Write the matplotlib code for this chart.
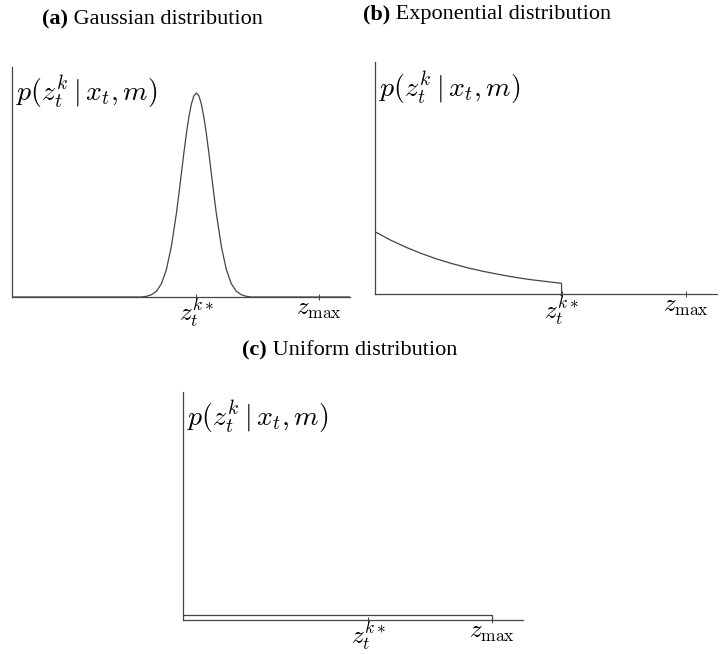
import matplotlib
matplotlib.use("Agg")
import matplotlib.pyplot as plt

# x in units of z_max, y in units of axis height
z_star = 0.6
z_max = 1.0

gauss_x = [0.0, 0.421, 0.4377, 0.4539, 0.4701, 0.4864, 0.5026, 0.5188, 0.5351,
           0.5432, 0.5513, 0.5594, 0.5675, 0.5756, 0.5838, 0.5919, 0.6,
           0.6081, 0.6162, 0.6244, 0.6325, 0.6406, 0.6487, 0.6568, 0.6649,
           0.6812, 0.6974, 0.7136, 0.7299, 0.7461, 0.7623, 0.779, 1.1]
gauss_y = [0.0, 0.0, 0.003, 0.010, 0.025, 0.058, 0.120, 0.221, 0.364,
           0.449, 0.538, 0.627, 0.710, 0.782, 0.839, 0.875, 0.887,
           0.875, 0.839, 0.782, 0.710, 0.627, 0.538, 0.449, 0.364,
           0.221, 0.120, 0.058, 0.025, 0.010, 0.003, 0.0, 0.0]

expo_x = [0.0, 0.05, 0.10, 0.15, 0.20, 0.25, 0.30, 0.35, 0.40, 0.45, 0.50, 0.55, 0.60, 0.60]
expo_y = [0.270, 0.234, 0.203, 0.176, 0.152, 0.132, 0.114, 0.099, 0.086, 0.074, 0.064, 0.056, 0.048, 0.0]

unif_x = [0.0, 1.0, 1.0]
unif_y = [0.022, 0.022, 0.0]

tick_pos = [z_star, z_max]
tick_labels = [r"$z_t^{k*}$", r"$z_{\max}$"]
ylabel = r"$p(z_t^k\mid x_t,m)$"

titles = [("(a)", " Gaussian distribution"),
          ("(b)", " Exponential distribution"),
          ("(c)", " Uniform distribution")]

plt.rcParams["mathtext.fontset"] = "cm"
line_col = "#444444"

W, H = 723, 654
fig = plt.figure(figsize=(W / 100, H / 100), dpi=100)

def frac(l, t, r, b):
    return [l / W, 1 - b / H, (r - l) / W, (b - t) / H]

ax_a = fig.add_axes(frac(12, 67, 350, 297))
ax_b = fig.add_axes(frac(375, 62, 717, 294.5))
ax_c = fig.add_axes(frac(183, 392, 523, 620))

curves = [(ax_a, gauss_x, gauss_y), (ax_b, expo_x, expo_y), (ax_c, unif_x, unif_y)]
for ax, xs, ys in curves:
    ax.plot(xs, ys, color=line_col, lw=0.9)
    ax.set_xlim(0, 1.1)
    ax.set_ylim(0, 1)
    for s in ["top", "right"]:
        ax.spines[s].set_visible(False)
    for s in ["left", "bottom"]:
        ax.spines[s].set_color(line_col)
        ax.spines[s].set_linewidth(0.9)
    ax.set_yticks([])
    ax.set_xticks(tick_pos)
    ax.set_xticklabels(tick_labels, fontsize=18)
    ax.tick_params(axis="x", direction="inout", length=5, width=0.7, color=line_col, pad=-2.5)
    ax.text(0.012, 0.97, ylabel, transform=ax.transAxes, fontsize=20, va="top", ha="left")

# titles: bold label followed by regular text
title_pos = [(42, 19), (363, 14), (242, 350)]
renderer = fig.canvas.get_renderer()
for (lab, rest), (tx, ty) in zip(titles, title_pos):
    t1 = fig.text(tx / W, 1 - ty / H, lab, fontsize=16, fontweight="bold",
                  family="Liberation Serif", va="center", ha="left")
    ext = t1.get_window_extent(renderer)
    fig.text(ext.x1 / W, 1 - ty / H, rest, fontsize=16,
             family="Liberation Serif", va="center", ha="left")

fig.savefig("out.png", dpi=100)
